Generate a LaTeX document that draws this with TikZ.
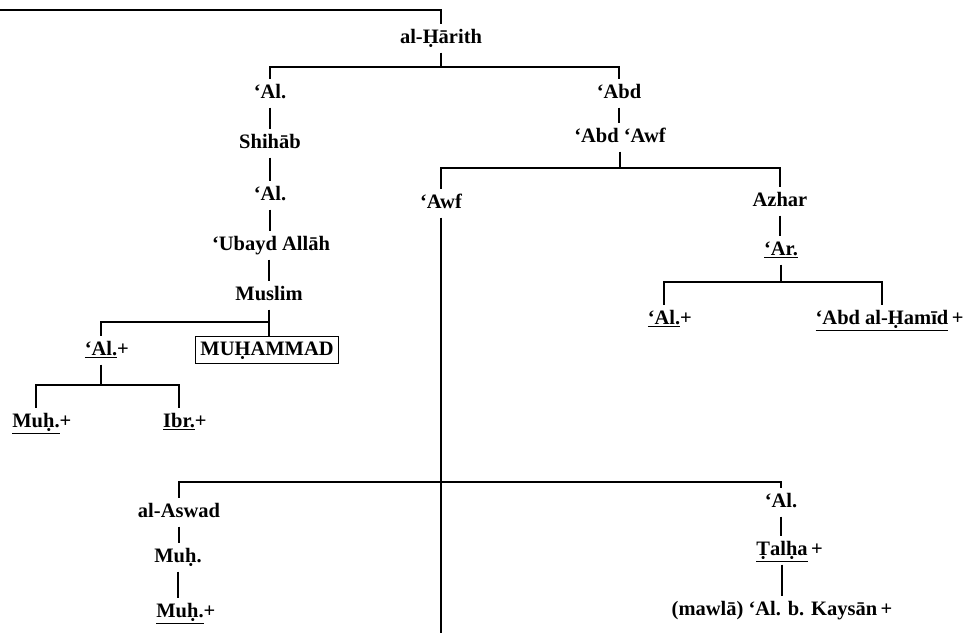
\documentclass[tikz,border=0pt]{standalone}
\usepackage{fontspec}
\setmainfont{Liberation Serif}
\begin{document}
\begin{tikzpicture}[x=1pt,y=-1pt,
  nm/.style={font=\bfseries\fontsize{20.5}{24}\selectfont, inner sep=0pt, outer sep=6pt, text height=14pt, text depth=3pt},
  boxed/.style={nm, draw, line width=1.3pt, inner sep=5pt, outer sep=0pt},
  ln/.style={line width=2.9pt}]
\useasboundingbox (0,0) rectangle (968,633);
% nodes
\node[nm] (harith) at (441,38) {al-Ḥārith};
\node[nm] (al1) at (270,93) {‘Al.};
\node[nm] (shihab) at (270,143) {Shihāb};
\node[nm] (al2) at (270,195) {‘Al.};
\node[nm] (ubayd) at (271,245) {‘Ubayd Allāh};
\node[nm] (muslim) at (269,295) {Muslim};
\node[nm] (al3) at (101,350) {\underline{‘Al.}\rlap{+}};
\node[boxed] (muhammad) at (267,350) {MUḤAMMAD};
\node[nm] (muh1) at (36,422) {\underline{Muḥ.}\rlap{+}};
\node[nm] (ibr) at (179,422) {\underline{Ibr.}\rlap{+}};
\node[nm] (abd) at (619,93) {‘Abd};
\node[nm] (abdawf) at (620,137) {‘Abd ‘Awf};
\node[nm] (awf) at (441,203) {‘Awf};
\node[nm] (azhar) at (780,201) {Azhar};
\node[nm] (ar) at (781,250) {\underline{‘Ar.}};
\node[nm] (al4) at (664,319) {\underline{‘Al.}\rlap{+}};
\node[nm] (hamid) at (882,319) {\underline{‘Abd al-Ḥamīd}\rlap{\,+}};
\node[nm] (aswad) at (179,512) {al-Aswad};
\node[nm] (muh2) at (178,557) {Muḥ.};
\node[nm] (muh3) at (180,612) {\underline{Muḥ.}\rlap{+}};
\node[nm] (al5) at (781,502) {‘Al.};
\node[nm] (talha) at (782,550) {\underline{Ṭalḥa}\rlap{\,+}};
\node[nm] (kaysan) at (782,610) {(mawlā) ‘Al. b. Kaysān\,+};
% bar levels
\coordinate (tl) at (0,10);
\coordinate (b1) at (0,67);
\coordinate (b2) at (0,322);
\coordinate (b3) at (0,385);
\coordinate (b4) at (0,168);
\coordinate (b5) at (0,282);
\coordinate (b6) at (441,482);
\coordinate (bot) at (441,633);
% connectors
\draw[ln] (tl) -| (harith.north);
\draw[ln] (harith.south) -- (harith.south |- b1) -| (al1.north);
\draw[ln] (harith.south |- b1) -| (abd.north);
\draw[ln] (al1.south) -- (al1.south |- shihab.north);
\draw[ln] (shihab.south) -- (shihab.south |- al2.north);
\draw[ln] (al2.south) -- (al2.south |- ubayd.north);
\draw[ln] (ubayd.south -| muslim) -- (muslim.north);
\draw[ln] (muslim.south) -- (muslim.south |- b2) -| (al3.north);
\draw[ln] (muslim.south |- b2) -- (muslim.south |- muhammad.north);
\draw[ln] (al3.south) -- (al3.south |- b3) -| (muh1.north);
\draw[ln] (al3.south |- b3) -| (ibr.north);
\draw[ln] (abd.south) -- (abd.south |- abdawf.north);
\draw[ln] (abdawf.south) -- (abdawf.south |- b4) -| (awf.north);
\draw[ln] (abdawf.south |- b4) -| (azhar.north);
\draw[ln] (azhar.south) -- (azhar.south |- ar.north);
\draw[ln] (ar.south) -- (ar.south |- b5) -| (al4.north);
\draw[ln] (ar.south |- b5) -| (hamid.north);
\draw[ln] (awf.south) -- (bot);
\draw[ln] (aswad.north) |- (b6) -| (al5.north);
\draw[ln] (aswad.south) -- (aswad.south |- muh2.north);
\draw[ln] (muh2.south) -- (muh2.south |- muh3.north);
\draw[ln] (al5.south) -- (al5.south |- talha.north);
\draw[ln] (talha.south) -- (talha.south |- kaysan.north);
\end{tikzpicture}
\end{document}
